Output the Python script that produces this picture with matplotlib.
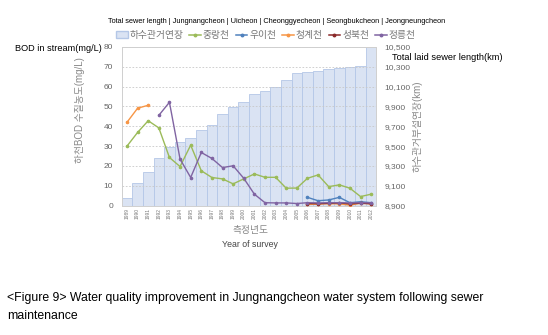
import numpy as np
import matplotlib.pyplot as plt
from matplotlib.patches import Patch
from matplotlib.lines import Line2D

plt.rcParams['font.family'] = ['Liberation Sans', 'Noto Sans CJK KR']

years = [str(y) for y in range(1989, 2013)]
sewer_km = [8980, 9126, 9240, 9376, 9496, 9538, 9582, 9666, 9710, 9824, 9898, 9944,
            10022, 10060, 10098, 10162, 10232, 10250, 10262, 10282, 10290, 10300, 10306, 10500]
nan = np.nan
jungnang = [30.0, 36.9, 42.8, 39.2, 24.3, 19.7, 30.5, 17.6, 14.2, 13.5, 11.0, 13.5,
            16.0, 14.3, 14.3, 8.8, 8.9, 13.8, 15.5, 9.6, 10.5, 8.8, 4.6, 5.8]
uicheon = [nan] * 17 + [4.2, 2.5, 2.9, 4.2, 1.5, 2.0, 1.5]
cheonggye = [42.0, 49.1, 50.6] + [nan] * 14 + [0.6, 0.8, 1.0, 0.9, 0.3, 1.2, 0.9]
seongbuk = [nan] * 17 + [1.1, 1.0, 1.2, 1.4, 0.9, 1.3, 1.0]
jeongneung = [nan, nan, nan, 45.5, 52.1, 23.5, 14.2, 26.8, 23.8, 19.2, 20.1, 13.8,
              5.8, 1.5, 1.4, 1.4, 1.1, 1.5, 1.4, 1.5, 1.5, 1.4, 1.5, 1.4]

names = ['하수관거연장', '중랑천', '우이천', '청계천', '성북천', '정릉천']
colors = ['#9bbb59', '#4f81bd', '#f79646', '#8b2a2a', '#8064a2']

fig = plt.figure(figsize=(5.48, 3.35), dpi=100)
ax = fig.add_axes([0.222, 0.386, 0.465, 0.474])
ax2 = ax.twinx()
x = np.arange(len(years))

# bars on the sewer-length axis (right side)
ax.bar(x, sewer_km, width=1.0, color='#dae3f3', edgecolor='#b4c7e7', linewidth=0.6, zorder=1)
ax.set_ylim(8900, 10500)
ax.set_yticks(range(8900, 10501, 200))
ax.set_yticklabels([f'{v:,}' for v in range(8900, 10501, 200)])
ax.set_xlim(-0.5, len(years) - 0.5)
ax.set_xticks(x)
ax.set_xticklabels(years, rotation=90, fontsize=3.5, color='#777777')
ax.tick_params(axis='x', length=0, pad=2)

# BOD lines (left side)
series = [jungnang, uicheon, cheonggye, seongbuk, jeongneung]
for vals, c in zip(series, colors):
    ax2.plot(x, vals, color=c, lw=1.0, marker='o', ms=1.6, zorder=3)
ax2.set_ylim(0, 80)
ax2.set_yticks(range(0, 81, 10))
ax2.grid(axis='y', color='#c8c8c8', ls=(0, (2, 2)), lw=0.6)

# swap sides: bars axis on the right, lines axis on the left
ax.yaxis.tick_right()
ax.yaxis.set_label_position('right')
ax2.yaxis.tick_left()
ax2.yaxis.set_label_position('left')
ax.tick_params(axis='y', length=0, labelsize=6, labelcolor='#666666', pad=6,
               left=False, labelleft=False, right=False, labelright=True)
ax2.tick_params(axis='y', length=0, labelsize=6, labelcolor='#666666', pad=6,
                left=False, labelleft=True, right=False, labelright=False)
ax.set_ylabel('하수관거부설연장(km)', fontsize=7, color='#888888', labelpad=1, rotation=90)
ax2.set_ylabel('하천BOD 수질농도(mg/L)', fontsize=7, color='#888888')
ax2.yaxis.set_label_coords(-0.145, 0.60)
for a in (ax, ax2):
    for s in a.spines.values():
        s.set_color('#d0d0d0')
        s.set_linewidth(0.7)

handles = [Patch(facecolor='#dae3f3', edgecolor='#b4c7e7')]
handles += [Line2D([], [], color=c, lw=1.1, marker='o', ms=1.8) for c in colors]
fig.legend(handles, names, loc='center', bbox_to_anchor=(0.485, 0.895), ncol=6,
           frameon=False, fontsize=7, labelcolor='#777777', handlelength=1.2,
           handletextpad=0.2, columnspacing=0.6)

fig.text(0.505, 0.937, 'Total sewer length | Jungnangcheon | Uicheon | Cheonggyecheon | '
         'Seongbukcheon | Jeongneungcheon', ha='center', va='center', fontsize=5.3)
fig.text(0.028, 0.855, 'BOD in stream(mg/L)', ha='left', va='center', fontsize=6.6)
fig.text(0.716, 0.829, 'Total laid sewer length(km)', ha='left', va='center', fontsize=6.7)
fig.text(0.457, 0.313, '측정년도', ha='center', va='center', fontsize=7, color='#888888')
fig.text(0.457, 0.271, 'Year of survey', ha='center', va='center', fontsize=6.3, color='#444444')

fig.text(0.013, 0.110, '<Figure 9> Water quality improvement in Jungnangcheon water system following sewer',
         ha='left', va='center', fontsize=8.8)
fig.text(0.013, 0.058, 'maintenance', ha='left', va='center', fontsize=8.8)

fig.savefig('out.png', dpi=100)
